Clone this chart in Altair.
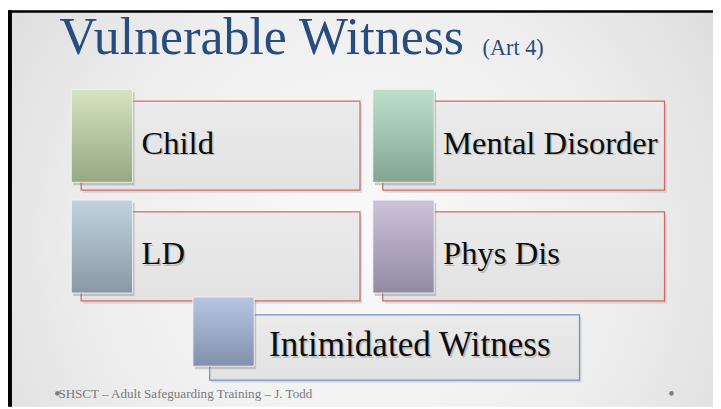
import altair as alt
import pandas as pd

# ---------------- data (text content) ----------------
title_text = "Vulnerable Witness"
title_note = "(Art 4)"
footer_text = "SHSCT – Adult Safeguarding Training – J. Todd"
labels = ["Child", "Mental Disorder", "LD", "Phys Dis", "Intimidated Witness"]
grid_col = [0, 1, 0, 1, 2]          # 0 = left, 1 = right, 2 = centred bottom
grid_row = [0, 0, 1, 1, 2]

# ---------------- layout / styles ----------------
W, H = 713, 401
SQ_X = {0: 64, 1: 369, 2: 187}      # left of coloured square per column
SQ_Y = {0: 80, 1: 192, 2: 290}      # top of coloured square per row
SQ_H = {0: 94, 1: 94, 2: 70}
SQ_W = 62
BOX_R = {0: 356, 1: 664, 2: 578}    # right edge of text box
BOX_DX = {0: 10, 1: 10, 2: 17}
BOX_TOP = {0: 12, 1: 12, 2: 18}
BOX_BOT = {0: 102, 1: 102, 2: 84}
TXT_DX = {0: 71, 1: 71, 2: 77}
TXT_BASE = {0: 65, 1: 65, 2: 60}
TXT_SIZE = {0: 33, 1: 33, 2: 35.5}

sq_colors = [("#D5E3C0", "#97A784"), ("#BCE0CC", "#85A494"), ("#C0D3DF", "#8999A4"),
             ("#CCC3DA", "#928AA2"), ("#B6C6E2", "#8290AC")]
box_strokes = ["#D06A6A", "#D06A6A", "#D06A6A", "#D06A6A", "#7393C9"]

rows = []
for lab, c, r in zip(labels, grid_col, grid_row):
    sx, sy = SQ_X[c], SQ_Y[r]
    rows.append(dict(
        label=lab,
        sx0=sx, sx1=sx + SQ_W, sy0=sy, sy1=sy + SQ_H[r],
        bx0=sx + BOX_DX[c], bx1=BOX_R[c], by0=sy + BOX_TOP[r], by1=sy + BOX_BOT[r],
        tx=sx + TXT_DX[c], ty=sy + TXT_BASE[r], fs=TXT_SIZE[c],
    ))
items = pd.DataFrame(rows)

texts = pd.DataFrame([
    dict(kind="title", text=title_text, x=52, y=44),
    dict(kind="note", text=title_note, x=480, y=45),
    dict(kind="footer", text=footer_text, x=51, y=392),
])
dots = pd.DataFrame([dict(x=50, y=387.5), dict(x=671, y=387.5)])
slide = pd.DataFrame([dict(x0=0, x1=W, y0=0, y1=H)])
frame = pd.DataFrame([
    dict(x0=0, x1=W, y0=0, y1=2.5),
    dict(x0=0, x1=4, y0=0, y1=H),
])

xs = alt.Scale(domain=[0, W], nice=False, zero=False)
ys = alt.Scale(domain=[0, H], nice=False, zero=False, reverse=True)
SERIF = "Liberation Serif"


def rects(df, f0, f1, g0, g1, **mark):
    return alt.Chart(df).mark_rect(**mark).encode(
        x=alt.X(f"{f0}:Q", scale=xs, axis=None),
        x2=f"{f1}:Q",
        y=alt.Y(f"{g0}:Q", scale=ys, axis=None),
        y2=f"{g1}:Q",
    )


def shifted(df, dx, dy):
    d = df.copy()
    for k in ["sx0", "sx1", "bx0", "bx1"]:
        d[k] = d[k] + dx
    for k in ["sy0", "sy1", "by0", "by1"]:
        d[k] = d[k] + dy
    return d


def lin(top, bottom):
    return {"gradient": "linear", "x1": 0, "y1": 0, "x2": 0, "y2": 1,
            "stops": [{"offset": 0, "color": top}, {"offset": 1, "color": bottom}]}


bg = {"gradient": "radial", "x1": 0.5, "y1": 0.55, "r1": 0,
      "x2": 0.5, "y2": 0.55, "r2": 0.75,
      "stops": [{"offset": 0, "color": "#FAFAFA"},
                {"offset": 0.5, "color": "#EEEEEE"},
                {"offset": 1, "color": "#D3D3D3"}]}

layers = []
layers.append(rects(slide, "x0", "x1", "y0", "y1", fill=bg))
# black frame (top and left edges of slide)
layers.append(rects(frame, "x0", "x1", "y0", "y1", fill="#000000"))

# text boxes: shadow, then box
layers.append(rects(shifted(items, 2, 2.5), "bx0", "bx1", "by0", "by1",
                    fill="#9A9A9A", opacity=0.3))
for i, lab in enumerate(labels):
    sub = items[items.label == lab]
    layers.append(rects(sub, "bx0", "bx1", "by0", "by1",
                        fill=lin("#EBEBEB", "#E2E2E2"),
                        stroke=box_strokes[i], strokeWidth=1.3))

# coloured squares: shadow then gradient fill
layers.append(rects(shifted(items, 2, 3), "sx0", "sx1", "sy0", "sy1",
                    fill="#7A7A7A", opacity=0.35))
for i, lab in enumerate(labels):
    sub = items[items.label == lab]
    layers.append(rects(sub, "sx0", "sx1", "sy0", "sy1",
                        fill=lin(*sq_colors[i]), stroke="#F4F4F4",
                        strokeWidth=1, strokeOpacity=0.9))

# labels with soft shadow
enc_lab = dict(x=alt.X("tx:Q", scale=xs, axis=None),
               y=alt.Y("ty:Q", scale=ys, axis=None), text="label:N",
               size=alt.Size("fs:Q", scale=None, legend=None))
layers.append(alt.Chart(items).mark_text(
    align="left", baseline="alphabetic", font=SERIF,
    color="#777777", opacity=0.35, dx=1.5, dy=1.5).encode(**enc_lab))
layers.append(alt.Chart(items).mark_text(
    align="left", baseline="alphabetic", font=SERIF,
    color="#0D0D0D").encode(**enc_lab))

# title, note, footer
enc_t = dict(x=alt.X("x:Q", scale=xs, axis=None),
             y=alt.Y("y:Q", scale=ys, axis=None), text="text:N")
title_df = texts[texts.kind == "title"]
note_df = texts[texts.kind == "note"]
foot_df = texts[texts.kind == "footer"]
layers.append(alt.Chart(title_df).mark_text(
    align="left", baseline="alphabetic", font=SERIF, fontSize=52.5,
    color="#274C7E").encode(**enc_t))
layers.append(alt.Chart(note_df).mark_text(
    align="left", baseline="alphabetic", font=SERIF, fontSize=22.5,
    color="#274C7E").encode(**enc_t))
layers.append(alt.Chart(foot_df).mark_text(
    align="left", baseline="alphabetic", font=SERIF, fontSize=13.2,
    color="#7A7A7A").encode(**enc_t))
layers.append(alt.Chart(dots).mark_circle(size=22, color="#7F7F7F", opacity=1).encode(
    x=alt.X("x:Q", scale=xs, axis=None), y=alt.Y("y:Q", scale=ys, axis=None)))

chart = alt.layer(*layers).properties(
    width=W, height=H, padding=0, autosize=alt.AutoSizeParams(type="none"),
    background="#FFFFFF",
).configure_view(stroke=None)

chart.save("out.html", embed_options={"renderer": "svg", "actions": False})
